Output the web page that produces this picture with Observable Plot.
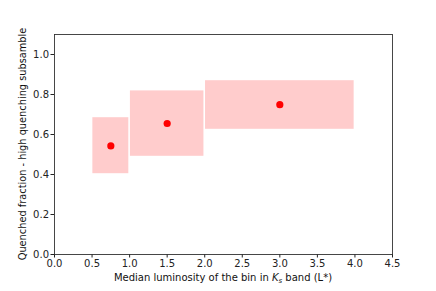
<!DOCTYPE html>
<html><head><meta charset="utf-8">
<script src="https://cdn.jsdelivr.net/npm/d3@7"></script>
<script src="https://cdn.jsdelivr.net/npm/@observablehq/plot@0.6"></script>
<style>body{margin:0;background:#fff;} svg{display:block;}</style>
</head><body><div id="chart"></div>
<script>
const binLow = [0.5, 1.0, 2.0];
const binHigh = [1.0, 2.0, 4.0];
const fracLow = [0.40, 0.487, 0.622];
const fracHigh = [0.688, 0.822, 0.873];
const medianL = [0.75, 1.5, 3.0];
const fraction = [0.543, 0.655, 0.749];
const xTicks = [0, 0.5, 1.0, 1.5, 2.0, 2.5, 3.0, 3.5, 4.0, 4.5];
const yTicks = [0, 0.2, 0.4, 0.6, 0.8, 1.0];

const boxes = binLow.map((d, i) => ({x1: d, x2: binHigh[i], y1: fracLow[i], y2: fracHigh[i]}));
const pts = medianL.map((d, i) => ({x: d, y: fraction[i]}));

const chart = Plot.plot({
  width: 436, height: 291,
  marginLeft: 54, marginRight: 44, marginTop: 34, marginBottom: 37,
  style: {fontFamily: "DejaVu Sans", fontSize: "10px", color: "#222", background: "#fff"},
  x: {domain: [0, 4.5], ticks: xTicks, tickFormat: d3.format(".1f"), label: null},
  y: {domain: [0, 1.1], ticks: yTicks, tickFormat: d3.format(".1f"), label: null},
  marks: [
    Plot.rect(boxes, {x1: "x1", x2: "x2", y1: "y1", y2: "y2", fill: "#ffcccc", insetLeft: 0.8, insetRight: 0.8, insetTop: 0.8, insetBottom: 0.8}),
    Plot.dot(pts, {x: "x", y: "y", fill: "red", r: 3.6}),
    Plot.axisX({ticks: xTicks, tickFormat: d3.format(".1f"), tickSize: 3.5, tickPadding: 2, fontSize: 10, label: null}),
    Plot.axisY({ticks: yTicks, tickFormat: d3.format(".1f"), tickSize: 3.5, tickPadding: 2, fontSize: 10, label: null}),
    Plot.frame({stroke: "#333", strokeWidth: 0.9})
  ]
});
const svg = d3.select(chart);
svg.append("text").attr("x", 54 + (436-54-44)/2).attr("y", 281).attr("text-anchor", "middle")
  .attr("font-size", 10).attr("fill", "#111")
  .html('Median luminosity of the bin in <tspan font-style="italic">K</tspan><tspan font-style="italic" font-size="7" dy="2">s</tspan><tspan dy="-2"> band (L*)</tspan>');
svg.append("text").attr("transform", `translate(26,${34 + (291-34-37)/2}) rotate(-90)`).attr("text-anchor", "middle")
  .attr("font-size", 9.8).attr("fill", "#111")
  .text("Quenched fraction - high quenching subsamble");
document.getElementById("chart").append(chart);
</script></body></html>
